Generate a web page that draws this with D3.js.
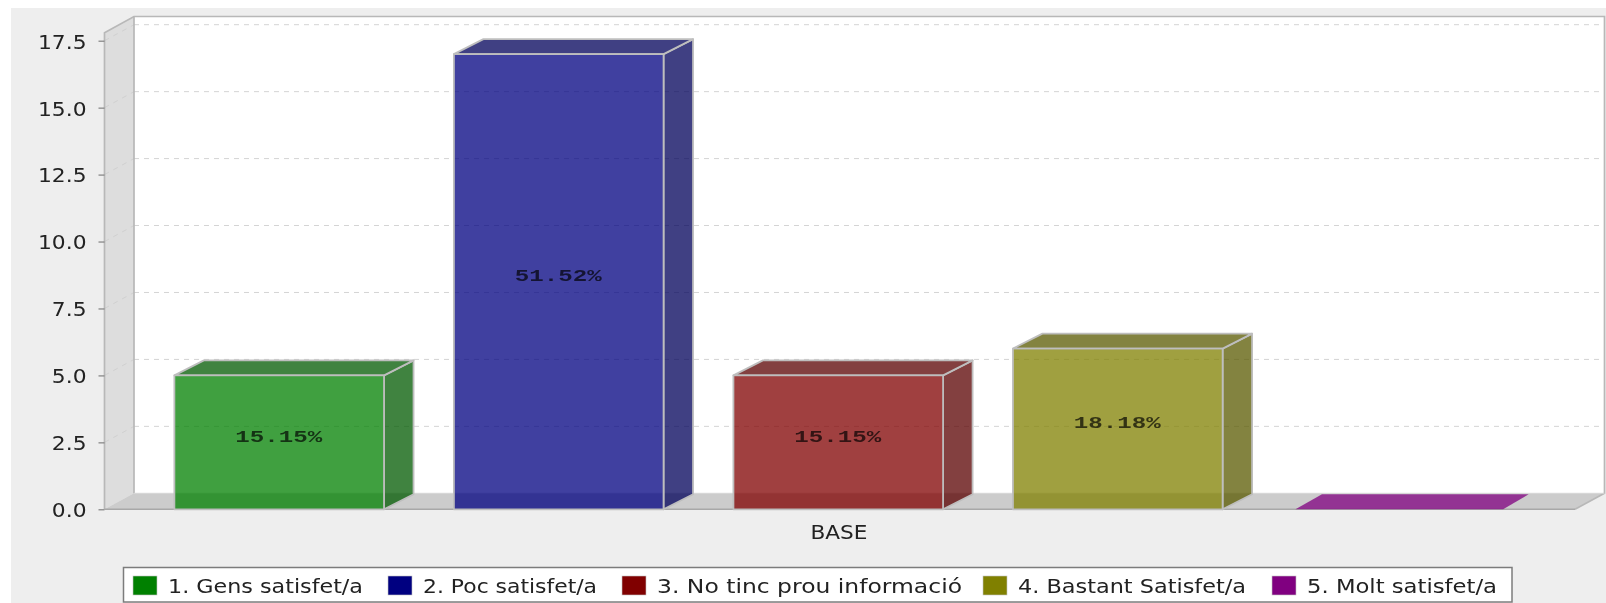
<!DOCTYPE html>
<html><head><meta charset="utf-8">
<script src="https://cdn.jsdelivr.net/npm/d3@7/dist/d3.min.js"></script>
<style>
html,body{margin:0;padding:0;background:#fff;overflow:hidden}
svg{display:block;filter:blur(0.55px)}
text{font-family:"DejaVu Sans",sans-serif;fill:#222}
</style></head><body><svg id="c" width="1606" height="603"></svg>
<script>
const categories=["1. Gens satisfet/a","2. Poc satisfet/a","3. No tinc prou informació","4. Bastant Satisfet/a","5. Molt satisfet/a"];
const values=[5,17,5,6,0];
const percentLabels=["15.15%","51.52%","15.15%","18.18%",""];
const seriesColors=["#008000","#000080","#800000","#808000","#800080"];
const yTicks=[0,2.5,5,7.5,10,12.5,15,17.5];
const axisCategory="BASE";

const depthX=29.5,depthY=16,barDepthY=15,plotLeft=104.5,plotRight=1575,bandRight=1572,base=509.3,plotTop=40.7;
const svg=d3.select("#c");
svg.append("rect").attr("x",11).attr("y",8).attr("width",1595).attr("height",595).attr("fill","#eeeeee");
const y=d3.scaleLinear().domain([0,17.5]).range([base,plotTop]);
const x=d3.scaleBand().domain(categories).range([plotLeft,bandRight]).paddingInner(.25).paddingOuter(.25);
const poly=pts=>pts.map(p=>p.join(",")).join(" ");

// plot back, wall, floor
const backTop=16.5,frontWallTop=32.7,backRight=plotRight+depthX;
svg.append("rect").attr("x",plotLeft+depthX).attr("y",backTop).attr("width",backRight-plotLeft-depthX).attr("height",base-depthY-backTop).attr("fill","#fff");
svg.append("polygon").attr("points",poly([[plotLeft,frontWallTop],[plotLeft+depthX,backTop],[plotLeft+depthX,base-depthY],[plotLeft,base]])).attr("fill","#dddddd");
svg.append("polygon").attr("points",poly([[plotLeft,base],[plotLeft+depthX,base-depthY],[backRight,base-depthY],[plotRight,base]])).attr("fill","#cccccc");
// grid
const grid=yTicks.filter(d=>d>0);
svg.append("g").selectAll("line").data(grid).join("line")
 .attr("x1",plotLeft+depthX).attr("x2",backRight).attr("y1",d=>y(d)-depthY).attr("y2",d=>y(d)-depthY)
 .attr("stroke","#d4d4d4").attr("stroke-dasharray","5 5");
svg.append("g").selectAll("line").data(grid).join("line")
 .attr("x1",plotLeft).attr("x2",plotLeft+depthX).attr("y1",d=>y(d)).attr("y2",d=>y(d)-depthY)
 .attr("stroke","#d0d0d0").attr("stroke-dasharray","5 5");
// wall edges
const edge="#b8b8b8";
svg.append("path").attr("fill","none").attr("stroke",edge).attr("stroke-width",1.7)
 .attr("d",`M${plotLeft},${base}V${frontWallTop}L${plotLeft+depthX},${backTop}H${backRight}V${base-depthY}L${plotRight},${base}M${plotLeft+depthX},${backTop}V${base-depthY}`);
svg.append("line").attr("x1",plotLeft+depthX).attr("x2",backRight).attr("y1",base-depthY).attr("y2",base-depthY).attr("stroke","#d8d8d8").attr("stroke-width",1);
svg.append("line").attr("x1",plotLeft).attr("x2",plotRight).attr("y1",base).attr("y2",base).attr("stroke","#a8a8a8").attr("stroke-width",1.5);

// bars
const bars=svg.append("g").selectAll("g").data(categories).join("g");
bars.each(function(c,i){
  const g=d3.select(this),x0=x(c),x1=x0+x.bandwidth(),yt=y(values[i]),col=seriesColors[i];
  const dark=d3.rgb(col).darker(1).formatHex();
  const stroke=values[i]>0?"#bebebe":"none";
  const face=(pts,f)=>g.append("polygon").attr("points",poly(pts)).attr("fill",f).attr("fill-opacity",.75)
     .attr("stroke",stroke).attr("stroke-width",1.8).attr("stroke-linejoin","round");
  if(values[i]>0){
    face([[x1,base],[x1+depthX,base-barDepthY],[x1+depthX,yt-barDepthY],[x1,yt]],dark);
    face([[x0,yt],[x0+depthX,yt-barDepthY],[x1+depthX,yt-barDepthY],[x1,yt]],dark);
    face([[x0,base],[x0,yt],[x1,yt],[x1,base]],col);
  } else {
    face([[x0+3,yt],[x0+depthX,yt-barDepthY],[x1+depthX-3,yt-barDepthY],[x1+1,yt]],col);
  }
  if(percentLabels[i]) g.append("text").attr("x",(x0+x1)/2-.5).attr("y",(yt+base)/2-.5)
     .attr("text-anchor","middle").attr("textLength",87).attr("lengthAdjust","spacingAndGlyphs")
     .style("font-family","'Liberation Mono',monospace").style("font-weight","bold").style("font-size","16px")
     .style("fill","#000").style("fill-opacity",.68).text(percentLabels[i]);
});

// y axis
const ax=svg.append("g").attr("transform",`translate(${plotLeft},0)`)
 .call(d3.axisLeft(y).tickValues(yTicks).tickFormat(d3.format(".1f")).tickSize(6).tickPadding(12));
ax.select(".domain").remove();
ax.selectAll(".tick line").attr("stroke","#808080").attr("stroke-width",1.2);
ax.selectAll("text").attr("dy",".37em").style("font-size","20px").style("font-family","'DejaVu Sans',sans-serif").style("fill","#222")
  .attr("textLength",function(){return this.getComputedTextLength()*1.09}).attr("lengthAdjust","spacingAndGlyphs");
// category label
svg.append("text").attr("x",839).attr("y",538.5).attr("text-anchor","middle").style("font-size","19px").attr("textLength",57).attr("lengthAdjust","spacingAndGlyphs").text(axisCategory);

// legend
const legendX=[133,388,622,983,1272],textW=[195,174,305,228,190];
svg.append("rect").attr("x",123.5).attr("y",567.5).attr("width",1388.5).attr("height",34.5).attr("fill","#fff").attr("stroke","#7c7c7c").attr("stroke-width",1.5);
const lg=svg.append("g").selectAll("g").data(categories).join("g").attr("transform",(d,i)=>`translate(${legendX[i]},0)`);
lg.append("rect").attr("y",576).attr("width",24).attr("height",19).attr("fill",(d,i)=>seriesColors[i]).attr("stroke","#c4c4c4").attr("stroke-width",.6);
lg.append("text").attr("x",35).attr("y",592.5).style("font-size","19px").attr("textLength",(d,i)=>textW[i]).attr("lengthAdjust","spacingAndGlyphs").text(d=>d);
</script></body></html>
